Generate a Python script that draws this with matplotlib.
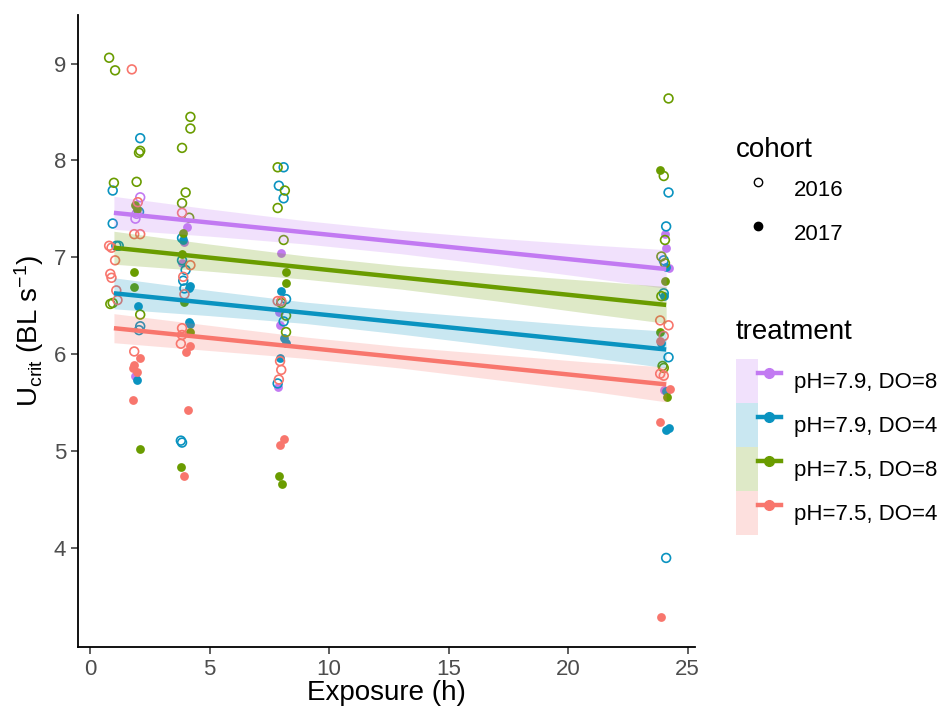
import matplotlib
matplotlib.use('Agg')
import matplotlib.pyplot as plt
import numpy as np
from matplotlib.patches import Patch
from matplotlib.lines import Line2D
from matplotlib.legend_handler import HandlerTuple

plt.rcParams['font.family'] = ['Liberation Sans', 'DejaVu Sans']
plt.rcParams['mathtext.fontset'] = 'custom'
plt.rcParams['mathtext.rm'] = 'Liberation Sans'
plt.rcParams['mathtext.it'] = 'Liberation Sans:italic'

# treatments, in legend order
labels = ['pH=7.9, DO=8', 'pH=7.9, DO=4', 'pH=7.5, DO=8', 'pH=7.5, DO=4']
colors = ['#C27AF2', '#0A93C0', '#6A9C00', '#F8766D']

# fitted lines (value at x=1 and x=24.1)
fit_x = [1.0, 24.1]
fit_start = [7.46, 6.63, 7.10, 6.27]
fit_end = [6.88, 6.05, 6.51, 5.69]

# confidence band half widths at these exposures
band_x = [1.0, 5, 9, 13, 17, 21, 24.1]
band_hw = [
    [0.17, 0.14, 0.12, 0.12, 0.14, 0.17, 0.20],
    [0.16, 0.13, 0.11, 0.12, 0.14, 0.16, 0.19],
    [0.17, 0.14, 0.12, 0.12, 0.14, 0.17, 0.19],
    [0.15, 0.13, 0.11, 0.11, 0.13, 0.15, 0.18],
]

# points, cohort 2016 (open) and 2017 (filled)
purple_2016_x = [2.1, 1.95, 1.9]
purple_2016_y = [7.62, 7.45, 7.40]
purple_2017_x = [1.9, 4.05, 3.95, 3.85, 8.0, 7.9, 7.95, 7.85, 24.05, 24.1, 24.2, 24.0]
purple_2017_y = [5.78, 7.31, 7.16, 6.94, 7.05, 6.44, 6.30, 5.66, 7.24, 7.10, 6.89, 5.63]

blue_2016_x = [0.95, 0.95, 1.1, 1.2, 2.1, 2.05, 2.1, 2.05, 3.85, 3.85, 4.0, 3.9, 3.95,
               3.8, 3.85, 8.1, 7.9, 8.1, 8.2, 8.1, 7.85, 24.2, 24.1, 24.0, 24.0, 24.2, 24.1]
blue_2016_y = [7.69, 7.35, 7.12, 7.12, 8.23, 7.47, 6.29, 6.25, 7.20, 6.97, 6.87, 6.76, 6.68,
               5.11, 5.09, 7.93, 7.74, 7.61, 6.57, 6.34, 5.70, 7.67, 7.32, 6.97, 6.63, 5.97, 3.90]
blue_2017_x = [2.0, 1.95, 3.9, 4.2, 4.15, 4.15, 4.2, 8.0, 8.1, 8.2, 7.95,
               24.1, 24.0, 23.9, 24.1, 24.2, 24.1]
blue_2017_y = [6.50, 5.74, 7.18, 6.71, 6.68, 6.33, 6.31, 6.65, 6.17, 6.12, 5.96,
               6.90, 6.60, 6.12, 5.62, 5.24, 5.22]

green_2016_x = [0.8, 1.05, 1.0, 0.85, 0.95, 2.1, 2.05, 1.95, 2.1, 4.2, 4.2, 3.85, 4.0,
                3.85, 4.15, 7.85, 8.15, 7.85, 8.1, 8.0, 8.2, 8.2,
                24.2, 24.0, 24.05, 23.9, 24.05, 23.9, 23.95, 24.0]
green_2016_y = [9.06, 8.93, 7.77, 6.52, 6.53, 8.10, 8.08, 7.78, 6.41, 8.45, 8.33, 8.13, 7.67,
                7.56, 7.41, 7.93, 7.69, 7.51, 7.18, 6.53, 6.40, 6.23,
                8.64, 7.84, 7.18, 7.01, 6.94, 6.60, 5.88, 5.86]
green_2017_x = [1.9, 1.95, 1.85, 1.85, 2.1, 3.9, 3.85, 3.95, 4.2, 3.8, 8.2, 8.2, 7.9, 8.05,
                23.85, 24.05, 23.85, 24.15]
green_2017_y = [7.54, 7.50, 6.85, 6.69, 5.02, 7.25, 7.04, 6.54, 6.23, 4.84, 6.85, 6.74, 4.74, 4.66,
                7.90, 6.76, 6.23, 5.56]

red_2016_x = [1.75, 0.8, 0.9, 1.05, 0.85, 0.9, 1.1, 1.15, 2.0, 1.85, 2.1, 1.85,
              3.85, 4.2, 3.9, 3.95, 3.85, 3.85, 3.8, 7.85, 8.0, 7.95, 8.0, 7.9,
              23.85, 24.2, 24.0, 23.85, 24.0]
red_2016_y = [8.94, 7.12, 7.10, 6.97, 6.83, 6.79, 6.66, 6.56, 7.57, 7.24, 7.24, 6.03,
              7.46, 6.92, 6.80, 6.62, 6.27, 6.20, 6.11, 6.55, 6.55, 5.93, 5.84, 5.74,
              6.35, 6.30, 6.19, 5.80, 5.78]
red_2017_x = [2.1, 1.8, 1.95, 1.85, 1.8, 4.2, 4.0, 4.1, 3.95, 8.1, 7.95, 23.85, 24.25, 23.85, 23.9]
red_2017_y = [5.96, 5.86, 5.82, 5.89, 5.53, 6.09, 6.02, 5.43, 4.74, 5.13, 5.07, 6.14, 5.64, 5.30, 3.29]

open_x = [purple_2016_x, blue_2016_x, green_2016_x, red_2016_x]
open_y = [purple_2016_y, blue_2016_y, green_2016_y, red_2016_y]
filled_x = [purple_2017_x, blue_2017_x, green_2017_x, red_2017_x]
filled_y = [purple_2017_y, blue_2017_y, green_2017_y, red_2017_y]

fig = plt.figure(figsize=(9.46, 7.19), dpi=100)
ax = fig.add_axes([0.0825, 0.100, 0.652, 0.879])

for i in range(4):
    ax.scatter(open_x[i], open_y[i], s=40, facecolors='none', edgecolors=colors[i],
               linewidths=1.2, zorder=2)
    ax.scatter(filled_x[i], filled_y[i], s=40, color=colors[i], linewidths=0, zorder=2)

for i in range(4):
    bx = np.array(band_x)
    fit = fit_start[i] + (fit_end[i] - fit_start[i]) * (bx - fit_x[0]) / (fit_x[1] - fit_x[0])
    hw = np.array(band_hw[i])
    ax.fill_between(bx, fit - hw, fit + hw, color=colors[i], alpha=0.22, lw=0, zorder=3)
    ax.plot(fit_x, [fit_start[i], fit_end[i]], color=colors[i], lw=3.2, zorder=4,
            solid_capstyle='butt')

ax.set_xlim(-0.5, 25.3)
ax.set_ylim(2.98, 9.5)
ax.set_xticks([0, 5, 10, 15, 20, 25])
ax.set_yticks([4, 5, 6, 7, 8, 9])
ax.tick_params(axis='both', labelsize=16, labelcolor='#4D4D4D', color='#333333',
               length=5, width=1.1)
for s in ['top', 'right']:
    ax.spines[s].set_visible(False)
for s in ['left', 'bottom']:
    ax.spines[s].set_linewidth(1.3)
    ax.spines[s].set_color('black')

ax.set_xlabel('Exposure (h)', fontsize=20, labelpad=0)
ax.set_ylabel(r'U$_{\mathrm{crit}}$ (BL s$^{\mathrm{-1}}$)', fontsize=20, labelpad=6)

# cohort legend
coh_handles = [
    Line2D([], [], ls='none', marker='o', mfc='none', mec='black', ms=6, mew=1.0),
    Line2D([], [], ls='none', marker='o', mfc='black', mec='black', ms=6),
]
leg1 = fig.legend(coh_handles, ['2016', '2017'], title='cohort', loc='upper left',
                  bbox_to_anchor=(0.757, 0.837), frameon=False, fontsize=16,
                  title_fontsize=20, handlelength=2.0, handleheight=2.47,
                  labelspacing=0.13, handletextpad=0.6, alignment='left')
leg1._legend_box.sep = 4

# treatment legend
tr_handles = []
for i in range(4):
    tr_handles.append((Patch(facecolor=colors[i], alpha=0.22, lw=0),
                       Line2D([], [], color=colors[i], lw=3.2, marker='o', ms=7)))
leg2 = fig.legend(tr_handles, labels, title='treatment', loc='upper left',
                  bbox_to_anchor=(0.757, 0.584), frameon=False, fontsize=16,
                  title_fontsize=20, handlelength=2.0, handleheight=2.67,
                  labelspacing=0.0, handletextpad=0.6, alignment='left', numpoints=1,
                  handler_map={tuple: HandlerTuple(ndivide=None, pad=0)})
leg2._legend_box.sep = 10

fig.savefig('out.png', dpi=100)
